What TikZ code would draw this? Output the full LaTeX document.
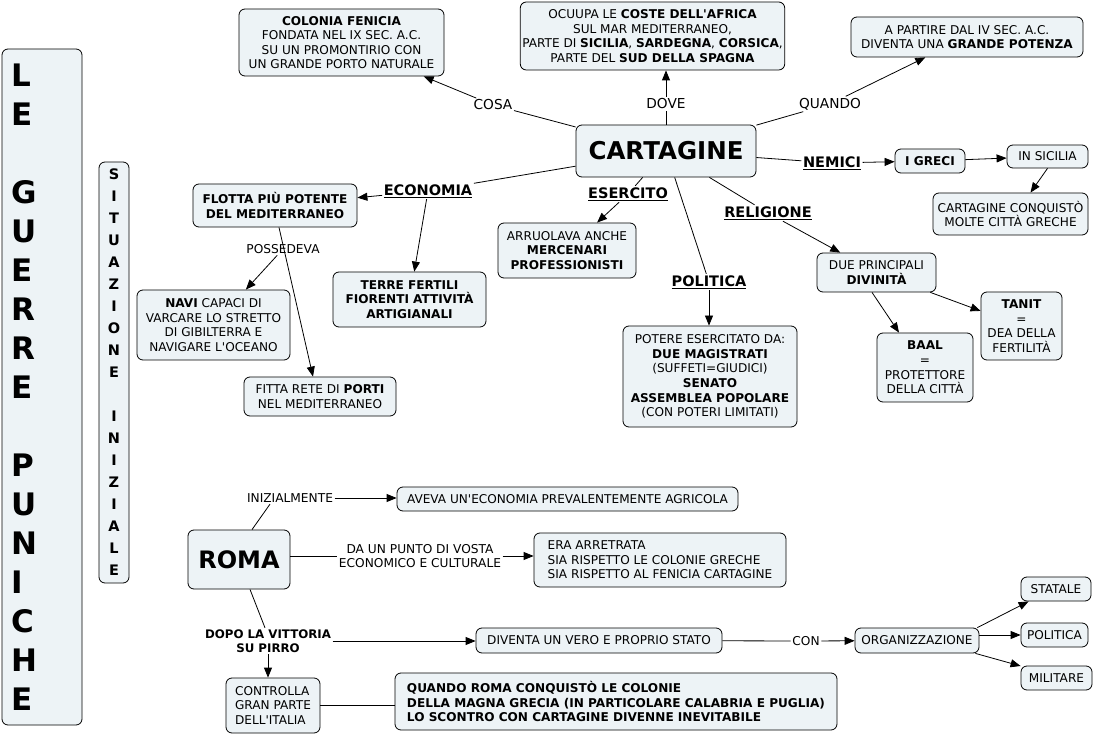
\documentclass[tikz,border=0pt]{standalone}
\usepackage{fontspec}
\setmainfont{DejaVu Sans}[Ligatures=TeXOff]
\usetikzlibrary{arrows.meta}
\definecolor{boxfill}{RGB}{237,243,246}
\tikzset{
  cbox/.style={draw=black, line width=0.8pt, fill=boxfill, rounded corners=6pt, align=center, inner sep=2pt, font=\fontsize{12.1}{14.6}\selectfont},
  lab/.style={inner sep=1.5pt, align=center, font=\fontsize{12.2}{14.6}\selectfont},
  biglab/.style={inner sep=1.5pt, align=center, font=\fontsize{13.7}{16}\selectfont},
  blab/.style={inner sep=1.5pt, align=center, font=\bfseries\fontsize{14.5}{17}\selectfont},
  arr/.style={line width=0.8pt, -{Triangle[length=10pt,width=8pt]}},
  ln/.style={line width=0.8pt},
}
\begin{document}
\begin{tikzpicture}[x=1pt,y=-1pt]
\useasboundingbox (0,0) rectangle (1101,735);

% side titles
\node[cbox, minimum width=80pt, minimum height=676pt, text width=62pt, align=left,
      font=\bfseries\fontsize{31}{39}\selectfont] (guerre) at (42,387)
  {L\\E\\[39pt]G\\U\\E\\R\\R\\E\\[39pt]P\\U\\N\\I\\C\\H\\E};
\node[cbox, minimum width=30pt, minimum height=421pt, inner sep=0pt,
      font=\bfseries\fontsize{14.5}{22}\selectfont] (situaz) at (114,372.5)
  {S\\I\\T\\U\\A\\Z\\I\\O\\N\\E\\[22pt]I\\N\\I\\Z\\I\\A\\L\\E};

% Cartagine part
\node[cbox, minimum width=180pt, minimum height=52pt, font=\bfseries\fontsize{24.5}{28}\selectfont] (cart) at (666,151) {CARTAGINE};
\node[cbox, minimum width=205pt, minimum height=67pt] (colonia) at (341.5,42.5)
  {\textbf{COLONIA FENICIA}\\FONDATA NEL IX SEC. A.C.\\SU UN PROMONTIRIO CON\\UN GRANDE PORTO NATURALE};
\node[cbox, minimum width=261pt, minimum height=68pt] (ocuupa) at (652.5,36)
  {OCUUPA LE \textbf{COSTE DELL'AFRICA}\\SUL MAR MEDITERRANEO,\\PARTE DI \textbf{SICILIA}, \textbf{SARDEGNA}, \textbf{CORSICA},\\PARTE DEL \textbf{SUD DELLA SPAGNA}};
\node[cbox, minimum width=232pt, minimum height=40pt] (partire) at (967,37)
  {A PARTIRE DAL IV SEC. A.C.\\DIVENTA UNA \textbf{GRANDE POTENZA}};
\node[cbox, minimum width=164pt, minimum height=43pt, font=\bfseries\fontsize{12.1}{14.6}\selectfont] (flotta) at (275,205.5)
  {FLOTTA PIÙ POTENTE\\DEL MEDITERRANEO};
\node[cbox, minimum width=153pt, minimum height=55pt, font=\bfseries\fontsize{12.1}{14.6}\selectfont] (terre) at (409.5,299.5)
  {TERRE FERTILI\\FIORENTI ATTIVITÀ\\ARTIGIANALI};
\node[cbox, minimum width=153pt, minimum height=70pt] (navi) at (213.5,325)
  {\textbf{NAVI} CAPACI DI\\VARCARE LO STRETTO\\DI GIBILTERRA E\\NAVIGARE L'OCEANO};
\node[cbox, minimum width=152pt, minimum height=39pt] (fitta) at (320,396.5)
  {FITTA RETE DI \textbf{PORTI}\\NEL MEDITERRANEO};
\node[cbox, minimum width=138pt, minimum height=55pt] (arruol) at (567,250.5)
  {ARRUOLAVA ANCHE\\\textbf{MERCENARI}\\\textbf{PROFESSIONISTI}};
\node[cbox, minimum width=174pt, minimum height=101pt] (potere) at (710,376.5)
  {POTERE ESERCITATO DA:\\\textbf{DUE MAGISTRATI}\\(SUFFETI=GIUDICI)\\\textbf{SENATO}\\\textbf{ASSEMBLEA POPOLARE}\\(CON POTERI LIMITATI)};
\node[cbox, minimum width=119pt, minimum height=39pt] (due) at (876.5,272.5)
  {DUE PRINCIPALI\\\textbf{DIVINITÀ}};
\node[cbox, minimum width=81pt, minimum height=68pt] (tanit) at (1021.5,326)
  {\textbf{TANIT}\\=\\DEA DELLA\\FERTILITÀ};
\node[cbox, minimum width=96pt, minimum height=69pt] (baal) at (925,367.5)
  {\textbf{BAAL}\\=\\PROTETTORE\\DELLA CITTÀ};
\node[cbox, minimum width=70pt, minimum height=24pt] (greci) at (930,161) {\textbf{I GRECI}};
\node[cbox, minimum width=81pt, minimum height=23pt] (sicilia) at (1047.5,156.5) {IN SICILIA};
\node[cbox, minimum width=155pt, minimum height=42pt] (conq) at (1010.5,214)
  {CARTAGINE CONQUISTÒ\\MOLTE CITTÀ GRECHE};

% Cartagine labels
\node[biglab] (cosa) at (493,105) {COSA};
\node[biglab] (dove) at (666,104) {DOVE};
\node[biglab] (quandol) at (830,104) {QUANDO};
\node[blab] (nemici) at (832,163) {\underline{NEMICI}};
\node[blab] (economia) at (428,191) {\underline{ECONOMIA}};
\node[blab] (esercito) at (628,194) {\underline{ESERCITO}};
\node[blab] (politica) at (709,282) {\underline{POLITICA}};
\node[blab] (religione) at (768,213) {\underline{RELIGIONE}};
\node[lab] (poss) at (283,249) {POSSEDEVA};

% Cartagine connectors
\draw[ln] (cart) -- (cosa);
\draw[arr] (cosa) -- (colonia);
\draw[ln] (cart) -- (dove);
\draw[arr] (dove) -- (dove |- ocuupa.south);
\draw[ln] (cart) -- (quandol);
\draw[arr] (quandol) -- (partire);
\draw[ln] (cart) -- (nemici);
\draw[arr] (nemici) -- (greci);
\draw[arr] (greci) -- (sicilia);
\draw[arr] (sicilia.south) -- ([xshift=20pt]conq.north);
\draw[ln] (cart) -- (economia);
\draw[arr] (economia) -- (flotta);
\draw[arr] (economia) -- (terre);
\draw[arr] ([xshift=4pt]flotta.south) -- ([xshift=-7pt]fitta.north);
\draw[arr] (poss) -- (navi);
\draw[ln] (cart) -- (esercito);
\draw[arr] (esercito) -- (arruol);
\draw[ln] (cart) -- (politica);
\draw[arr] (politica) -- (politica |- potere.north);
\draw[ln] (cart) -- (religione);
\draw[arr] (religione) -- (due);
\draw[arr] (due) -- (tanit);
\draw[arr] ([xshift=-4.5pt]due.south) -- ([xshift=-26pt]baal.north);

% Roma part
\node[cbox, minimum width=102pt, minimum height=59pt, font=\bfseries\fontsize{24}{28}\selectfont] (roma) at (239,559.5) {ROMA};
\node[cbox, minimum width=341pt, minimum height=24pt] (aveva) at (567.5,499) {AVEVA UN'ECONOMIA PREVALENTEMENTE AGRICOLA};
\node[cbox, minimum width=252pt, minimum height=54pt, align=left] (era) at (660,560)
  {ERA ARRETRATA\\SIA RISPETTO LE COLONIE GRECHE\\SIA RISPETTO AL FENICIA CARTAGINE};
\node[cbox, minimum width=246pt, minimum height=25pt] (diventa) at (599,640.5) {DIVENTA UN VERO E PROPRIO STATO};
\node[cbox, minimum width=124pt, minimum height=25pt] (org) at (917,640.5) {ORGANIZZAZIONE};
\node[cbox, minimum width=70pt, minimum height=24pt] (statale) at (1056,589) {STATALE};
\node[cbox, minimum width=67pt, minimum height=24pt] (politica2) at (1054.5,635) {POLITICA};
\node[cbox, minimum width=71pt, minimum height=24pt] (militare) at (1056.5,678) {MILITARE};
\node[cbox, minimum width=94pt, minimum height=55pt, align=left] (controlla) at (273,705.5)
  {CONTROLLA\\GRAN PARTE\\DELL'ITALIA};
\node[cbox, minimum width=442pt, minimum height=57pt, align=left, font=\bfseries\fontsize{12.1}{14.6}\selectfont] (quando) at (616,701.5)
  {QUANDO ROMA CONQUISTÒ LE COLONIE\\DELLA MAGNA GRECIA (IN PARTICOLARE CALABRIA E PUGLIA)\\LO SCONTRO CON CARTAGINE DIVENNE INEVITABILE};

% Roma labels
\node[lab] (iniz) at (290,498) {INIZIALMENTE};
\node[lab] (punto) at (420,556) {DA UN PUNTO DI VOSTA\\ECONOMICO E CULTURALE};
\node[lab, font=\bfseries\fontsize{11.8}{14}\selectfont] (dopo) at (268,641) {DOPO LA VITTORIA\\SU PIRRO};
\node[lab] (con) at (806,641) {CON};

% Roma connectors
\draw[ln] ([xshift=13pt]roma.north) -- ([xshift=-20pt]iniz.south);
\draw[arr] (iniz) -- (iniz -| aveva.west);
\draw[ln] (punto.west -| roma.east) -- (punto.west);
\draw[arr] (punto) -- (punto -| era.west);
\draw[ln] ([xshift=11pt]roma.south) -- ([xshift=-3pt]dopo.north);
\draw[arr] (dopo) -- (dopo -| diventa.west);
\draw[arr] (dopo.south) -- (dopo.south |- controlla.north);
\draw[ln] (diventa) -- (con);
\draw[arr] (con) -- (org);
\draw[arr] ([xshift=-2pt]org.north east) -- ([xshift=8pt]statale.south west);
\draw[arr] (org.east |- politica2) -- (politica2.west);
\draw[arr] ([xshift=-4pt]org.south east) -- ([yshift=12pt]militare.west);
\draw[ln] (controlla.east) -- (controlla.east -| quando.west);
\end{tikzpicture}
\end{document}
